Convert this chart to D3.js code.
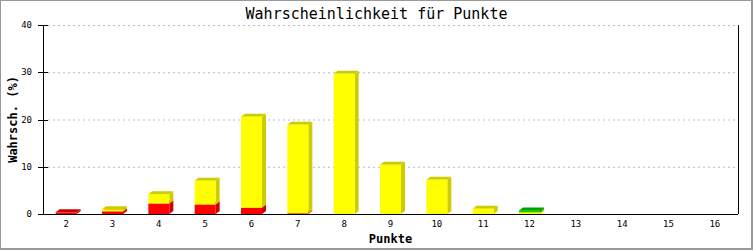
<!DOCTYPE html>
<html>
<head>
<meta charset="utf-8">
<script src="https://cdn.jsdelivr.net/npm/d3@7"></script>
<style>
  html, body { margin: 0; padding: 0; background: #fff; }
  svg { display: block; }
</style>
</head>
<body>
<div id="chart"></div>
<script>
const categories = ['2', '3', '4', '5', '6', '7', '8', '9', '10', '11', '12', '13', '14', '15', '16'];
const redValues = [0.35, 0.55, 2.2, 2.0, 1.3, 0.15, 0, 0, 0, 0, 0, 0, 0, 0, 0];
const yellowValues = [0, 0.45, 2.0, 5.05, 19.3, 18.75, 29.7, 10.4, 7.26, 1.1, 0.35, 0, 0, 0, 0];
const greenValues = [0, 0, 0, 0, 0, 0, 0, 0, 0, 0, 0.4, 0, 0, 0, 0];
const yTicks = [0, 10, 20, 30, 40];

const series = [
  {values: redValues, front: '#ff0000', shade: '#cc0000'},
  {values: yellowValues, front: '#ffff00', shade: '#cccc00'},
  {values: greenValues, front: '#00d000', shade: '#00a000'}
];

const width = 753, height = 250;
const margin = {top: 25, right: 15, bottom: 36, left: 43};
const depthX = 4, depthY = 3;
const mono = '"DejaVu Sans Mono", monospace';

const svg = d3.select('#chart').append('svg')
  .attr('width', width)
  .attr('height', height);

// frame
svg.append('rect').attr('width', width).attr('height', height).attr('fill', '#999');
svg.append('rect').attr('x', 1).attr('y', 1)
  .attr('width', width - 3).attr('height', height - 3).attr('fill', '#fff');

const x = d3.scaleBand()
  .domain(categories)
  .range([margin.left, width - margin.right]);
const y = d3.scaleLinear()
  .domain([0, 40])
  .range([height - margin.bottom, margin.top]);

// grid
svg.append('g')
  .selectAll('line')
  .data(yTicks.filter(t => t > 0))
  .enter().append('line')
  .attr('x1', margin.left + 5)
  .attr('x2', width - margin.right)
  .attr('y1', d => y(d) + 0.5)
  .attr('y2', d => y(d) + 0.5)
  .attr('stroke', '#bbb')
  .attr('stroke-dasharray', '2,3');

// stacked 3d bars
const barW = 21;
const bars = svg.append('g');
categories.forEach((c, i) => {
  let base = 0;
  series.forEach(s => {
    const v = s.values[i];
    if (!v) return;
    const x0 = x(c) + x.bandwidth() / 2 - barW / 2;
    const x1 = x0 + barW;
    const yb = y(base), yt = y(base + v);
    // side
    bars.append('path')
      .attr('d', `M${x1},${yt}L${x1 + depthX},${yt - depthY}L${x1 + depthX},${yb - depthY}L${x1},${yb}Z`)
      .attr('fill', s.shade);
    // top
    bars.append('path')
      .attr('d', `M${x0},${yt}L${x0 + depthX},${yt - depthY}L${x1 + depthX},${yt - depthY}L${x1},${yt}Z`)
      .attr('fill', s.shade);
    // front
    bars.append('rect')
      .attr('x', x0).attr('y', yt)
      .attr('width', barW).attr('height', yb - yt)
      .attr('fill', s.front);
    base += v;
  });
});

// axes
const axes = svg.append('g').attr('stroke', '#000').attr('shape-rendering', 'crispEdges');
axes.append('line')
  .attr('x1', margin.left).attr('x2', width - margin.right)
  .attr('y1', y(0) + 0.5).attr('y2', y(0) + 0.5);
axes.append('line')
  .attr('x1', margin.left + 0.5).attr('x2', margin.left + 0.5)
  .attr('y1', y(40)).attr('y2', y(0));
axes.append('line')
  .attr('x1', width - margin.right + 0.5).attr('x2', width - margin.right + 0.5)
  .attr('y1', y(40)).attr('y2', y(0));
axes.selectAll('.tick')
  .data(yTicks)
  .enter().append('line')
  .attr('x1', margin.left - 5).attr('x2', margin.left + 5)
  .attr('y1', d => y(d) + 0.5).attr('y2', d => y(d) + 0.5);

svg.append('g')
  .selectAll('text')
  .data(yTicks)
  .enter().append('text')
  .attr('x', margin.left - 11)
  .attr('y', d => y(d) + 3)
  .attr('text-anchor', 'end')
  .style('font', `9px ${mono}`)
  .text(d => d);

svg.append('g')
  .selectAll('text')
  .data(categories)
  .enter().append('text')
  .attr('x', d => x(d) + x.bandwidth() / 2)
  .attr('y', y(0) + 13)
  .attr('text-anchor', 'middle')
  .style('font', `9px ${mono}`)
  .text(d => d);

// titles
svg.append('text')
  .attr('x', width / 2).attr('y', 19)
  .attr('text-anchor', 'middle')
  .style('font', `15px ${mono}`)
  .text('Wahrscheinlichkeit für Punkte');

svg.append('text')
  .attr('x', (margin.left + width - margin.right) / 2).attr('y', 243)
  .attr('text-anchor', 'middle')
  .style('font', `bold 12px ${mono}`)
  .text('Punkte');

svg.append('text')
  .attr('transform', `translate(17,${(y(0) + y(40)) / 2}) rotate(-90)`)
  .attr('text-anchor', 'middle')
  .style('font', `bold 12px ${mono}`)
  .text('Wahrsch. (%)');
</script>
</body>
</html>
